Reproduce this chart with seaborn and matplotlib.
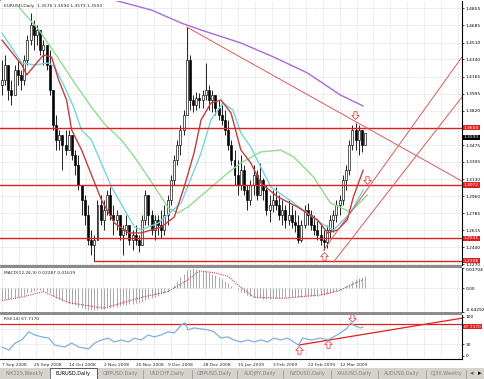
import numpy as np
import pandas as pd
import matplotlib
matplotlib.use("Agg")
import matplotlib.pyplot as plt
import matplotlib.transforms as mtransforms
from matplotlib.patches import Rectangle
from matplotlib.path import Path
import seaborn as sns

sns.set_style("white")
plt.rcParams['font.family'] = ['DejaVu Sans']

# ---------------- data ----------------
title_text = "EURUSD,Daily  1.3576 1.3594 1.3573 1.3593"
first_open = 1.4082
closes = [1.4132, 1.4284, 1.4031, 1.3981, 1.4233, 1.4183, 1.4132, 1.4334, 1.4536, 1.4688,
          1.4586, 1.4637, 1.4435, 1.4485, 1.4284, 1.4031, 1.3678, 1.3526, 1.3577, 1.3476,
          1.3425, 1.3577, 1.3375, 1.3274, 1.3072, 1.2920, 1.2769, 1.2516, 1.2466, 1.2516,
          1.2870, 1.2718, 1.2819, 1.2971, 1.2769, 1.2718, 1.2769, 1.2567, 1.2617, 1.2668,
          1.2516, 1.2567, 1.2516, 1.2466, 1.2718, 1.2971, 1.2769, 1.2617, 1.2718, 1.2668,
          1.2617, 1.2769, 1.2920, 1.3122, 1.3324, 1.3476, 1.3627, 1.3779, 1.4334, 1.3930,
          1.3880, 1.3950, 1.3930, 1.3981, 1.4031, 1.3930, 1.3981, 1.3849, 1.3779, 1.3728,
          1.3627, 1.3476, 1.3324, 1.3173, 1.3072, 1.3223, 1.3021, 1.2920, 1.3072, 1.3173,
          1.2971, 1.3122, 1.3021, 1.2819, 1.2870, 1.2920, 1.2870, 1.2769, 1.2819, 1.2718,
          1.2769, 1.2698, 1.2668, 1.2516, 1.2668, 1.2819, 1.2769, 1.2668, 1.2617, 1.2567,
          1.2516, 1.2496, 1.2617, 1.2718, 1.2769, 1.2870, 1.2920, 1.3122, 1.3223, 1.3476,
          1.3627, 1.3526, 1.3627, 1.3476, 1.3593]
highs = [1.4334, 1.4385, 1.4233, 1.4132, 1.4284, 1.4334, 1.4233, 1.4385, 1.4586, 1.4809,
         1.4738, 1.4688, 1.4637, 1.4536, 1.4485, 1.4435, 1.4031, 1.3779, 1.3627, 1.3577,
         1.3627, 1.3627, 1.3577, 1.3425, 1.3375, 1.3072, 1.2971, 1.2870, 1.2617, 1.2567,
         1.2920, 1.2971, 1.2920, 1.3021, 1.3051, 1.2870, 1.2819, 1.2769, 1.2668, 1.2769,
         1.2668, 1.2617, 1.2668, 1.2567, 1.2769, 1.3021, 1.2920, 1.2819, 1.2769, 1.2769,
         1.2819, 1.2870, 1.2971, 1.3173, 1.3375, 1.3526, 1.3678, 1.3829, 1.4667, 1.4385,
         1.3981, 1.4011, 1.4001, 1.4031, 1.4304, 1.4082, 1.4031, 1.3981, 1.3930, 1.3880,
         1.3829, 1.3728, 1.3526, 1.3425, 1.3324, 1.3375, 1.3274, 1.3072, 1.3122, 1.3274,
         1.3223, 1.3294, 1.3142, 1.3072, 1.2971, 1.3021, 1.3051, 1.2971, 1.2920, 1.2870,
         1.2920, 1.2870, 1.2819, 1.2769, 1.2718, 1.2870, 1.2890, 1.2819, 1.2769, 1.2718,
         1.2668, 1.2617, 1.2668, 1.2769, 1.2819, 1.2920, 1.2971, 1.3173, 1.3274, 1.3526,
         1.3678, 1.3698, 1.3678, 1.3627, 1.3594]
lows = [1.3981, 1.4082, 1.3930, 1.3880, 1.3981, 1.4082, 1.4031, 1.4082, 1.4284, 1.4485,
        1.4435, 1.4485, 1.4385, 1.4284, 1.4233, 1.3981, 1.3627, 1.3425, 1.3425, 1.3223,
        1.3375, 1.3425, 1.3324, 1.3173, 1.3021, 1.2769, 1.2668, 1.2466, 1.2365, 1.2308,
        1.2516, 1.2668, 1.2617, 1.2769, 1.2718, 1.2567, 1.2617, 1.2516, 1.2365, 1.2567,
        1.2466, 1.2415, 1.2466, 1.2395, 1.2466, 1.2668, 1.2668, 1.2567, 1.2516, 1.2567,
        1.2536, 1.2567, 1.2668, 1.2870, 1.3072, 1.3274, 1.3375, 1.3577, 1.3779, 1.3829,
        1.3809, 1.3829, 1.3849, 1.3849, 1.3930, 1.3829, 1.3809, 1.3779, 1.3728, 1.3678,
        1.3577, 1.3425, 1.3274, 1.3072, 1.2971, 1.3021, 1.2971, 1.2819, 1.2870, 1.2971,
        1.2920, 1.2971, 1.2920, 1.2769, 1.2698, 1.2799, 1.2819, 1.2718, 1.2668, 1.2637,
        1.2668, 1.2637, 1.2597, 1.2486, 1.2496, 1.2637, 1.2668, 1.2617, 1.2567, 1.2516,
        1.2466, 1.2415, 1.2435, 1.2536, 1.2597, 1.2698, 1.2769, 1.2870, 1.3021, 1.3173,
        1.3425, 1.3425, 1.3375, 1.3405, 1.3573]

# moving averages (bar index, price)
ma_red_x = [0, 6.25, 7.8, 10.9, 13.1, 15.6, 17.8, 20.3, 21.9, 25, 31.25, 35.3, 39.7, 43.75, 50,
            54.1, 57.2, 60.3, 62.5, 65.6, 68.75, 71.9, 75, 78.1, 81.25, 86.6, 92.8, 99.1,
            102.2, 105.3, 108.4, 110.3, 113.4]
ma_red_y = [1.4536, 1.4284, 1.4183, 1.4304, 1.4385, 1.4364, 1.4132, 1.3930, 1.3627, 1.3425,
            1.2920, 1.2688, 1.2587, 1.2587, 1.2647, 1.2748, 1.3051, 1.3395, 1.3728, 1.3900,
            1.3930, 1.3799, 1.3425, 1.3294, 1.3092, 1.2950, 1.2849, 1.2718, 1.2587, 1.2617,
            1.2718, 1.2950, 1.3223]
ma_cyan_x = [0, 6.25, 10.3, 14.7, 16.6, 19.7, 22.5, 25, 28.1, 34.4, 41.6, 43.75, 49.1, 56.25,
             62.5, 65.6, 69.4, 72.5, 75, 78.1, 84.4, 91.6, 100, 104.1, 109.4, 113.4]
ma_cyan_y = [1.4607, 1.4304, 1.4284, 1.4304, 1.4263, 1.4061, 1.3859, 1.3627, 1.3526, 1.3051,
             1.2647, 1.2617, 1.2688, 1.2890, 1.3395, 1.3728, 1.3900, 1.3829, 1.3597, 1.3455,
             1.3051, 1.2890, 1.2688, 1.2617, 1.2789, 1.3021]
ma_green_x = [5.3, 11.6, 16.6, 22.8, 28.1, 32.2, 37.5, 41.6, 45.9, 50, 52.2, 55.3, 58.4, 64.7,
              70.9, 75, 81.25, 87.5, 91.6, 97.8, 103.1, 109.4, 114.7]
ma_green_y = [1.4869, 1.4637, 1.4405, 1.4102, 1.3859, 1.3688, 1.3526, 1.3354, 1.3152, 1.2950,
              1.2839, 1.2789, 1.2849, 1.3021, 1.3193, 1.3294, 1.3405, 1.3425, 1.3354, 1.3152,
              1.2890, 1.2799, 1.2971]
ma_purple_x = [32.8, 46.9, 56.25, 62.5, 75, 85.3, 95.9, 106.25, 113.4]
ma_purple_y = [1.4960, 1.4839, 1.4708, 1.4637, 1.4506, 1.4364, 1.4203, 1.3980, 1.3869]

# horizontal levels
h_levels = [1.3650, 1.3072, 1.2531, 1.2308]
h_starts = [-1, -1, -1, 29]
# trend lines (x0, y0, x1, y1)
trend_down = (58, 1.4667, 144.4, 1.3110)
trend_up1 = (101, 1.2415, 144.4, 1.4364)
trend_up2 = (104, 1.2290, 144.4, 1.3960)

price_ticks = [1.2270, 1.2440, 1.2615, 1.2785, 1.2960, 1.3130, 1.3305, 1.3475, 1.3650,
               1.3820, 1.3995, 1.4165, 1.4340, 1.4510, 1.4685, 1.4855]
last_price = 1.3593

# arrows on main chart (x, y, direction)
main_arrows = [(101, 1.2350, 'up'), (114.5, 1.3120, 'down'), (110.8, 1.3780, 'down')]

# MACD
macd_main = [-0.020, -0.019, -0.019, -0.018, -0.017, -0.016, -0.014, -0.012, -0.009, -0.006,
             -0.004, -0.003, -0.003, -0.004, -0.006, -0.009, -0.013, -0.017, -0.020, -0.023,
             -0.025, -0.027, -0.029, -0.031, -0.033, -0.035, -0.037, -0.039, -0.040, -0.040,
             -0.039, -0.038, -0.037, -0.036, -0.035, -0.034, -0.033, -0.032, -0.031, -0.030,
             -0.029, -0.028, -0.027, -0.026, -0.024, -0.021, -0.019, -0.017, -0.015, -0.013,
             -0.011, -0.009, -0.006, 0.000, 0.006, 0.013, 0.020, 0.027, 0.033, 0.036,
             0.037, 0.036, 0.034, 0.032, 0.031, 0.029, 0.027, 0.024, 0.021, 0.017,
             0.013, 0.009, 0.005, 0.001, -0.003, -0.006, -0.009, -0.012, -0.014, -0.016,
             -0.017, -0.018, -0.019, -0.019, -0.019, -0.018, -0.017, -0.017, -0.016, -0.016,
             -0.016, -0.015, -0.015, -0.015, -0.015, -0.014, -0.013, -0.013, -0.013, -0.013,
             -0.012, -0.012, -0.011, -0.009, -0.007, -0.005, -0.003, 0.000, 0.004, 0.008,
             0.013, 0.017, 0.019, 0.021, 0.0229]
signal_x = [0, 6, 13, 21, 32, 44, 52, 58, 62, 67, 71, 75, 79, 88, 100, 106, 108, 113.4]
signal_y = [-0.022, -0.016, -0.006, -0.026, -0.036, -0.016, -0.006, 0.014, 0.032, 0.028,
            0.022, 0.002, -0.016, -0.018, -0.012, -0.004, 0.002, 0.0162]
macd_title = "MACD(12,26,9) 0.02287 0.01619"

# RSI
rsi_x = [0, 2.2, 4.1, 6.25, 8.4, 10.3, 12.5, 14.7, 16.6, 19.7, 21.9, 24.1, 27.2, 29.1, 31.25,
         33.4, 35.3, 37.5, 39.7, 41.6, 43.75, 45.9, 47.8, 50, 52.2, 54.1, 56.25, 57.5, 58.4,
         60.3, 64.7, 66.6, 68.75, 70.9, 72.8, 75, 77.2, 79.1, 81.25, 83.4, 85.3, 87.5, 89.7,
         91.6, 93.1, 94.4, 96.9, 100, 102.2, 104.1, 106.25, 108.4, 109.4, 110.3, 112.5, 113.4]
rsi_y = [23, 15, 33, 41, 62, 54, 49, 46, 28, 23, 33, 23, 18, 33, 41, 46, 36, 41, 36, 46, 41,
         54, 49, 54, 62, 59, 79, 85, 67, 72, 67, 62, 46, 49, 41, 36, 41, 36, 41, 36, 46, 41,
         46, 36, 28, 46, 41, 46, 41, 49, 59, 72, 85, 79, 72, 74]
rsi_title = "RSI(14) 67.7170"
rsi_level = 82
rsi_trend = (93.1, 28, 144.4, 97)
rsi_arrows = [(93.1, 15, 'up'), (102.5, 30, 'up'), (110, 97, 'down')]

date_pos = [0, 10, 21, 32, 42, 52, 63, 74, 85, 96, 106]
date_labels = ["7 Sep 2008", "25 Sep 2008", "14 Oct 2008", "2 Nov 2008", "20 Nov 2008",
               "9 Dec 2008", "28 Dec 2008", "15 Jan 2009", "3 Feb 2009", "22 Feb 2009",
               "12 Mar 2009"]
tabs = ["NIK225,Weekly", "EURUSD,Daily", "GBPUSD,Daily", "USDCHF,Daily", "GBPUSD,Daily",
        "AUDJPY,Daily", "NZDUSD,Daily", "XAUUSD,Daily", "AUDUSD,Daily", "DJ30,Weekly"]
active_tab = 1

# ---------------- figure ----------------
W, H = 485, 379
fig = plt.figure(figsize=(W / 100, H / 100), dpi=100)
fig.patch.set_facecolor('white')


def px_axes(x0, y0, x1, y1, **kw):
    return fig.add_axes([x0 / W, 1 - y1 / H, (x1 - x0) / W, (y1 - y0) / H], **kw)


UP_ARROW = Path([(0, 1), (1, 0), (0.42, 0), (0.42, -1), (-0.42, -1), (-0.42, 0), (-1, 0), (0, 1)],
                closed=True)
DOWN_ARROW = Path([(0, -1), (1, 0), (0.42, 0), (0.42, 1), (-0.42, 1), (-0.42, 0), (-1, 0), (0, -1)],
                  closed=True)


def draw_arrows(axx, arrows):
    for x, y, d in arrows:
        axx.scatter([x], [y], marker=UP_ARROW if d == 'up' else DOWN_ARROW, s=30,
                    facecolor='white', edgecolor='#e04848', linewidth=0.6, zorder=8)


bg = fig.add_axes([0, 0, 1, 1], zorder=-5)
bg.set_xlim(0, W)
bg.set_ylim(H, 0)
bg.axis('off')
# panel separators
for y0 in (265, 312):
    bg.add_patch(Rectangle((0, y0), 462, 3, color='#8c8c8c', lw=0))
bg.add_patch(Rectangle((0, 0), 1, 360, color='#9a9a9a', lw=0))

FS = 3.2
TICK = dict(length=1.5, width=0.5, pad=1.0, labelsize=FS, colors='black')
GRID = dict(color='#c8c8c8', linestyle=(0, (1, 1.5)), linewidth=0.5)
XMAX = 144.4
RED = '#e02020'
BOX = dict(boxstyle='square,pad=0.15', ec='none')

n = len(closes)
idx = np.arange(n)
opens = np.r_[first_open, closes[:-1]]
df = pd.DataFrame({'i': idx, 'open': opens, 'close': closes, 'high': highs, 'low': lows})

ax = px_axes(0, 1, 462, 265)
ax.set_xlim(-0.6, XMAX)
ax.set_ylim(1.2263, 1.4930)
grid_x = np.arange(0, XMAX, 5.3)
for gx in grid_x:
    ax.axvline(gx, zorder=0, **GRID)
for gy in price_ticks:
    ax.axhline(gy, zorder=0, **GRID)

# candles
ax.vlines(df['i'], df['low'], df['high'], color='black', lw=0.6, zorder=3)
up = df['close'] >= df['open']
ax.bar(df['i'][up], (df['close'] - df['open'])[up].abs() + 0.0004, bottom=df['open'][up] - 0.0002,
       width=0.62, color='white', edgecolor='black', linewidth=0.45, zorder=4)
ax.bar(df['i'][~up], (df['close'] - df['open'])[~up].abs() + 0.0004, bottom=df['close'][~up] - 0.0002,
       width=0.62, color='black', edgecolor='black', linewidth=0.45, zorder=4)

for xs, ys, col in [(ma_purple_x, ma_purple_y, '#a76bd6'), (ma_green_x, ma_green_y, '#8fdc8f'),
                    (ma_cyan_x, ma_cyan_y, '#78d2e0'), (ma_red_x, ma_red_y, '#c0403c')]:
    sns.lineplot(x=xs, y=ys, ax=ax, color=col, lw=1.0, sort=False, estimator=None, zorder=5)

for lv, st in zip(h_levels, h_starts):
    ax.plot([st, XMAX], [lv, lv], color=RED, lw=1.0, zorder=6)
for t in (trend_down, trend_up1, trend_up2):
    ax.plot([t[0], t[2]], [t[1], t[3]], color='#d85a5a', lw=0.7, zorder=6)

draw_arrows(ax, main_arrows)

ax.yaxis.tick_right()
ax.set_yticks(price_ticks)
# the tick that coincides with a red level label is covered by that label
ax.set_yticklabels(['' if any(abs(v - lv) < 1e-6 for lv in h_levels) else f"{v:.4f}"
                    for v in price_ticks])
ax.tick_params(axis='y', **TICK)
ax.set_xticks([])
for s in ('left', 'top', 'bottom'):
    ax.spines[s].set_visible(False)
ax.spines['right'].set_color('black')
ax.spines['right'].set_linewidth(0.8)
ax.set_xlabel('')
ax.set_ylabel('')
for lv in h_levels:
    ax.text(1.004, lv, f"{lv:.4f}", transform=ax.get_yaxis_transform(), fontsize=FS,
            color='white', va='center', ha='left', clip_on=False, zorder=10,
            bbox=dict(fc=RED, **BOX))
lp_tr = mtransforms.offset_copy(ax.get_yaxis_transform(), fig=fig, y=-2.8, units='points')
ax.text(1.004, last_price, f"{last_price:.4f}", transform=lp_tr, fontsize=FS,
        color='white', va='center', ha='left', clip_on=False, zorder=10,
        bbox=dict(fc='black', **BOX))
ax.text(0.008, 0.988, title_text, transform=ax.transAxes, fontsize=FS, va='top', ha='left')

# ---------------- MACD ----------------
ax2 = px_axes(0, 268, 462, 312)
ax2.set_xlim(-0.6, XMAX)
ax2.set_ylim(-0.04292, 0.03704)
for gx in grid_x:
    ax2.axvline(gx, zorder=0, **GRID)
ax2.axhline(0, zorder=0, **GRID)
ax2.vlines(idx, 0, macd_main, color='#a9a9a9', lw=0.7, zorder=2)
sns.lineplot(x=signal_x, y=signal_y, ax=ax2, color='#d04848', lw=0.8, linestyle=(0, (1, 1)),
             sort=False, estimator=None, zorder=3)
ax2.yaxis.tick_right()
ax2.set_yticks([0.03704, 0.0, -0.04292])
ax2.set_yticklabels(['0.03704', '0.00', '-0.04292'])
ax2.tick_params(axis='y', **TICK)
labs = ax2.get_yticklabels()
labs[0].set_va('top')
labs[2].set_va('bottom')
ax2.set_xticks([])
for s in ('left', 'top', 'bottom'):
    ax2.spines[s].set_visible(False)
ax2.spines['right'].set_color('black')
ax2.spines['right'].set_linewidth(0.8)
ax2.text(0.008, 0.93, macd_title, transform=ax2.transAxes, fontsize=FS, va='top', ha='left')
ax2.set_xlabel('')
ax2.set_ylabel('')

# ---------------- RSI ----------------
ax3 = px_axes(0, 315, 462, 359)
ax3.set_xlim(-0.6, XMAX)
ax3.set_ylim(-7.7, 105.1)
for gx in grid_x:
    ax3.axvline(gx, zorder=0, **GRID)
for gy in (30, 70):
    ax3.axhline(gy, zorder=0, **GRID)
ax3.axhline(rsi_level, color=RED, lw=0.9, zorder=3)
ax3.plot([rsi_trend[0], rsi_trend[2]], [rsi_trend[1], rsi_trend[3]], color=RED, lw=0.9, zorder=3)
sns.lineplot(x=rsi_x, y=rsi_y, ax=ax3, color='#7fb0e0', lw=0.9, sort=False, estimator=None,
             zorder=4)
draw_arrows(ax3, rsi_arrows)
ax3.yaxis.tick_right()
ax3.set_yticks([100, 30, 0])
ax3.set_yticklabels(['100', '30', '0'])
ax3.tick_params(axis='y', **TICK)
ax3.text(1.004, 75, '67.7170', transform=ax3.get_yaxis_transform(), fontsize=FS,
         color='white', va='center', ha='left', clip_on=False, zorder=10,
         bbox=dict(fc=RED, **BOX))
ax3.set_xticks(date_pos)
ax3.set_xticklabels(date_labels, ha='left')
ax3.tick_params(axis='x', length=2, width=0.5, pad=1, labelsize=FS, direction='out')
for s in ('left', 'top'):
    ax3.spines[s].set_visible(False)
for s in ('right', 'bottom'):
    ax3.spines[s].set_color('black')
    ax3.spines[s].set_linewidth(0.8)
ax3.text(0.008, 0.95, rsi_title, transform=ax3.transAxes, fontsize=FS, va='top', ha='left')
ax3.set_xlabel('')
ax3.set_ylabel('')

# ---------------- tab bar ----------------
tb = fig.add_axes([0, 0, 1, 11 / H], zorder=5)
tb.set_xlim(0, W)
tb.set_ylim(11, 0)
tb.axis('off')
tb.add_patch(Rectangle((0, 0), W, 11, color='#d6d3ce', lw=0))
edges = [0, 50, 97, 143, 192, 237, 283, 331, 378, 426, 466]
for k, name in enumerate(tabs):
    x0, x1 = edges[k], edges[k + 1]
    if k == active_tab:
        tb.add_patch(Rectangle((x0, 0), x1 - x0, 11, fc='white', ec='#404040', lw=0.6))
        col = 'black'
    else:
        tb.plot([x1, x1], [2, 10], color='#909090', lw=0.5)
        col = '#808080'
    tb.text((x0 + x1) / 2, 5.5, name, fontsize=3.6, color=col, ha='center', va='center')
tb.text(472, 5.5, '◂', fontsize=5, color='#606060', ha='center', va='center')
tb.text(480, 5.5, '▸', fontsize=5, color='black', ha='center', va='center')

fig.savefig('out.png', dpi=100)
